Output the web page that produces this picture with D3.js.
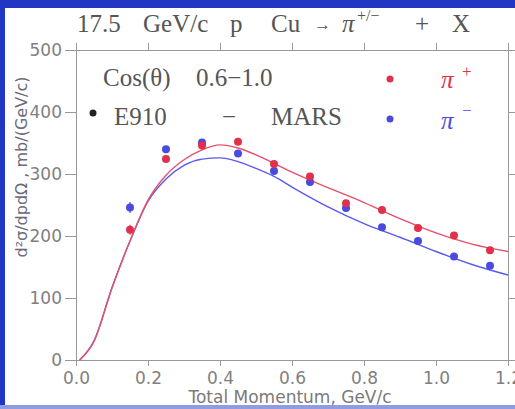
<!DOCTYPE html>
<html>
<head>
<meta charset="utf-8">
<script src="https://cdn.jsdelivr.net/npm/d3@7"></script>
<style>
  body { margin: 0; background: #2236c4; }
  svg { display: block; }
  .tick text { font-family: "DejaVu Sans", sans-serif; font-size: 17px; fill: #808080; }
  .tick line { stroke: #999; }
  .serif { font-family: "Liberation Serif", "DejaVu Serif", serif; }
</style>
</head>
<body>
<script>
// data points E910 (total momentum bins)
const momentum = [0.15, 0.25, 0.35, 0.45, 0.55, 0.65, 0.75, 0.85, 0.95, 1.05, 1.15];
const piPlus  = [210, 324, 346, 352, 316, 296, 253, 242, 213, 201, 177];
const piMinus = [246, 340, 351, 333, 305, 287, 245, 214, 192, 167, 152];
const errPlus  = [8, 4, 3, 3, 3, 3, 3, 3, 3, 3, 3];
const errMinus = [9, 4, 3, 3, 3, 3, 3, 3, 3, 3, 3];

// MARS curves
const marsP = [0.01, 0.05, 0.1, 0.15, 0.2, 0.25, 0.3, 0.35, 0.4, 0.45, 0.5, 0.55, 0.6, 0.7, 0.8, 0.9, 1.0, 1.1, 1.2];
const marsPlus  = [0, 30, 116, 192, 258, 298, 323, 339, 347, 342, 331, 317, 303, 278, 254, 228, 205, 187, 175];
const marsMinus = [0, 31, 117, 192, 256, 292, 314, 324, 326, 320, 309, 296, 279, 247, 220, 198, 175, 154, 137];

const xTicks = [0, 0.2, 0.4, 0.6, 0.8, 1.0, 1.2];
const yTicks = [0, 100, 200, 300, 400, 500];

const W = 515, H = 409;
const red = "#e0304c", blue = "#4a4ade";
const redLine = "#e8506a", blueLine = "#5a5af0";

const svg = d3.select("body").append("svg")
    .attr("width", W)
    .attr("height", H);

// frame
svg.append("rect").attr("x", 5).attr("y", 8).attr("width", W - 5).attr("height", 397).attr("fill", "#fff");
svg.append("rect").attr("x", 0).attr("y", 405).attr("width", W).attr("height", 4).attr("fill", "#8e9ce6");

const x = d3.scaleLinear().domain([0, 1.2]).range([76, 508]);
const y = d3.scaleLinear().domain([0, 500]).range([360, 50]);

// axes
const fmtX = d3.format(".1f");
svg.append("g").attr("transform", "translate(0,360)")
    .call(d3.axisBottom(x).tickValues(xTicks).tickFormat(fmtX).tickSize(6).tickSizeOuter(0).tickPadding(6))
    .call(g => g.select(".domain").remove());
svg.append("g").attr("transform", "translate(0,50)")
    .call(d3.axisTop(x).tickValues(xTicks).tickFormat("").tickSize(7).tickSizeOuter(0))
    .call(g => g.select(".domain").remove());
svg.append("g").attr("transform", "translate(76,0)")
    .call(d3.axisLeft(y).tickValues(yTicks).tickSize(11).tickSizeOuter(0).tickPadding(3))
    .call(g => g.select(".domain").remove());
svg.append("g").attr("transform", "translate(508,0)")
    .call(d3.axisRight(y).tickValues(yTicks).tickFormat("").tickSize(7).tickSizeOuter(0))
    .call(g => g.select(".domain").remove());

svg.append("rect")
    .attr("x", 76.5).attr("y", 50.5)
    .attr("width", 432).attr("height", 310)
    .attr("fill", "none").attr("stroke", "#999");

// curves
const line = d3.line()
    .x((d, i) => x(marsP[i]))
    .y(d => y(d))
    .curve(d3.curveMonotoneX);

svg.append("path").datum(marsMinus)
    .attr("d", line).attr("fill", "none")
    .attr("stroke", blueLine).attr("stroke-width", 1.4);
svg.append("path").datum(marsPlus)
    .attr("d", line).attr("fill", "none")
    .attr("stroke", redLine).attr("stroke-width", 1.4);

// points with error bars
function drawPoints(vals, errs, color) {
    const g = svg.append("g");
    g.selectAll("line").data(vals).join("line")
        .attr("x1", (d, i) => x(momentum[i])).attr("x2", (d, i) => x(momentum[i]))
        .attr("y1", (d, i) => y(d - errs[i])).attr("y2", (d, i) => y(d + errs[i]))
        .attr("stroke", color).attr("stroke-width", 1.2);
    g.selectAll("circle").data(vals).join("circle")
        .attr("cx", (d, i) => x(momentum[i]))
        .attr("cy", d => y(d))
        .attr("r", 4)
        .attr("fill", color);
}
drawPoints(piMinus, errMinus, blue);
drawPoints(piPlus, errPlus, red);

// title
const title = svg.append("g").attr("class", "serif").attr("fill", "#555");
title.append("text").attr("x", 77).attr("y", 32).attr("font-size", 25).text("17.5");
title.append("text").attr("x", 143).attr("y", 32).attr("font-size", 25).text("GeV/c");
title.append("text").attr("x", 230).attr("y", 32).attr("font-size", 25).text("p");
title.append("text").attr("x", 271).attr("y", 32).attr("font-size", 25).text("Cu");
title.append("text").attr("x", 314).attr("y", 30).attr("font-size", 17).text("→");
title.append("text").attr("x", 342).attr("y", 32).attr("font-size", 25).attr("font-style", "italic").text("π");
title.append("text").attr("x", 357).attr("y", 21).attr("font-size", 16).text("+/−");
title.append("text").attr("x", 415).attr("y", 32).attr("font-size", 25).text("+");
title.append("text").attr("x", 452).attr("y", 32).attr("font-size", 25).text("X");

// legend
const leg = svg.append("g").attr("class", "serif").attr("fill", "#555").attr("font-size", 25);
leg.append("text").attr("x", 103).attr("y", 86).text("Cos(θ)");
leg.append("text").attr("x", 196).attr("y", 86).text("0.6−1.0");
leg.append("circle").attr("cx", 93).attr("cy", 113).attr("r", 3.5).attr("fill", "#222");
leg.append("text").attr("x", 114).attr("y", 125).text("E910");
leg.append("text").attr("x", 222).attr("y", 125).text("−");
leg.append("text").attr("x", 271).attr("y", 125).text("MARS");
leg.append("circle").attr("cx", 390).attr("cy", 79).attr("r", 3.5).attr("fill", red);
leg.append("circle").attr("cx", 390).attr("cy", 119).attr("r", 3.5).attr("fill", blue);
leg.append("text").attr("x", 441).attr("y", 88).attr("fill", red).attr("font-style", "italic").text("π");
leg.append("text").attr("x", 462).attr("y", 77).attr("fill", red).attr("font-size", 17).text("+");
leg.append("text").attr("x", 441).attr("y", 129).attr("fill", blue).attr("font-style", "italic").text("π");
leg.append("text").attr("x", 462).attr("y", 116).attr("fill", blue).attr("font-size", 17).text("−");

// axis labels
svg.append("text")
    .attr("x", 290).attr("y", 403)
    .attr("text-anchor", "middle")
    .attr("font-family", "DejaVu Sans, sans-serif").attr("font-size", 17)
    .attr("fill", "#7a7a7a")
    .text("Total Momentum, GeV/c");

svg.append("text")
    .attr("transform", "translate(27,167) rotate(-90)")
    .attr("text-anchor", "middle")
    .attr("font-family", "DejaVu Sans, sans-serif").attr("font-size", 16)
    .attr("fill", "#6a6a78")
    .text("d²σ/dpdΩ , mb/(GeV/c)");
</script>
</body>
</html>
